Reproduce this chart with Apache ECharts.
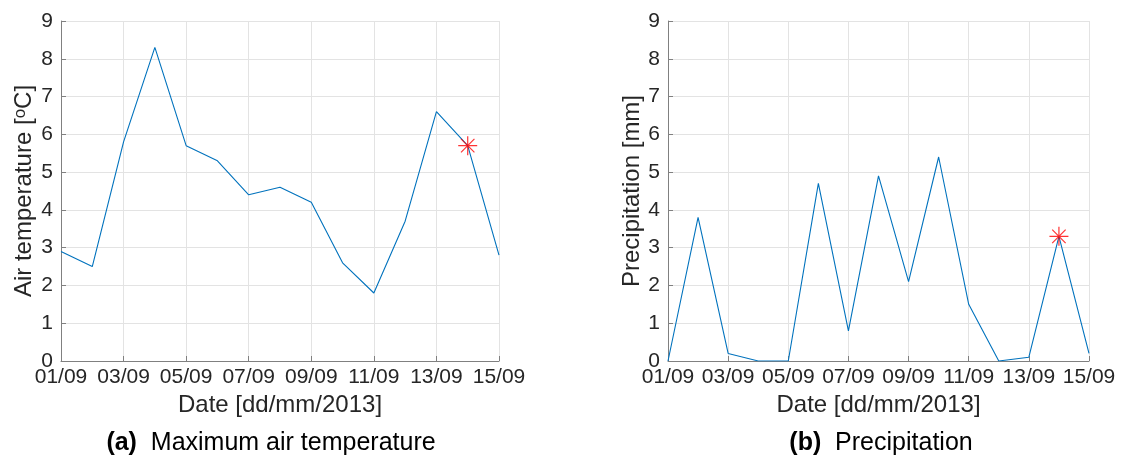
<!DOCTYPE html>
<html>
<head>
<meta charset="utf-8">
<title>Maximum air temperature and precipitation, September 2013</title>
<script src="https://cdn.jsdelivr.net/npm/echarts@6/dist/echarts.min.js"></script>
<style>
  html, body { margin: 0; padding: 0; background: #ffffff; }
  #chart { width: 1145px; height: 461px; }
</style>
</head>
<body>
<div id="chart"></div>
<script>
// Daily observations, 1–15 September 2013
const dates = ['01/09', '02/09', '03/09', '04/09', '05/09', '06/09', '07/09', '08/09',
               '09/09', '10/09', '11/09', '12/09', '13/09', '14/09', '15/09'];
const maxTemp = [2.9, 2.5, 5.8, 8.3, 5.7, 5.3, 4.4, 4.6, 4.2, 2.6, 1.8, 3.7, 6.6, 5.7, 2.8];
const precip = [0, 3.8, 0.2, 0, 0, 4.7, 0.8, 4.9, 2.1, 5.4, 1.5, 0, 0.1, 3.3, 0.2];
const highlightDate = '14/09';

const yTicks = { min: 0, max: 9, interval: 1 };
const tempTitle = 'Air temperature [{sup|o}C]';
const precipTitle = 'Precipitation [mm]';
const xTitle = 'Date [dd/mm/2013]';
const captionA = ['(a)', 'Maximum air temperature'];
const captionB = ['(b)', 'Precipitation'];

const hi = dates.indexOf(highlightDate);

const LINE = '#0072BD';
const AXIS = '#808080';
const TEXT = '#262626';
const GRID = '#e3e3e3';
const FONT = '"Liberation Sans", Arial, Helvetica, sans-serif';
const STAR = 'path://M0,-10L0,10M-10,0L10,0M-7.07,-7.07L7.07,7.07M-7.07,7.07L7.07,-7.07';

function xAxisFor(gridIndex) {
  return {
    type: 'category',
    gridIndex,
    data: dates,
    boundaryGap: false,
    name: xTitle,
    nameLocation: 'middle',
    nameGap: 26,
    nameTextStyle: { fontFamily: FONT, fontSize: 24, color: TEXT },
    axisLine: { lineStyle: { color: AXIS, width: 1 } },
    axisTick: { inside: true, length: 5, interval: 1, lineStyle: { color: AXIS } },
    axisLabel: { interval: 1, margin: 6, fontFamily: FONT, fontSize: 21, color: TEXT },
    splitLine: { show: true, interval: 1, lineStyle: { color: GRID, width: 1 } }
  };
}

function yAxisFor(gridIndex, title, gap) {
  return {
    type: 'value',
    gridIndex,
    min: yTicks.min,
    max: yTicks.max,
    interval: yTicks.interval,
    name: title,
    nameLocation: 'middle',
    nameGap: gap,
    nameTextStyle: {
      fontFamily: FONT, fontSize: 24, color: TEXT,
      rich: {
        sup: { fontFamily: FONT, fontSize: 17, color: TEXT, verticalAlign: 'top', padding: [0, 0, 8, 0] }
      }
    },
    axisLine: { show: true, lineStyle: { color: AXIS, width: 1 } },
    axisTick: { show: true, inside: true, length: 5, lineStyle: { color: AXIS } },
    axisLabel: { margin: 8, fontFamily: FONT, fontSize: 21, color: TEXT },
    splitLine: { show: true, lineStyle: { color: GRID, width: 1 } }
  };
}

function lineSeries(idx, values) {
  return {
    type: 'line',
    xAxisIndex: idx,
    yAxisIndex: idx,
    data: values,
    showSymbol: false,
    symbol: 'none',
    lineStyle: { color: LINE, width: 1.1 },
    animation: false,
    z: 2
  };
}

function starSeries(idx, values) {
  return {
    type: 'scatter',
    xAxisIndex: idx,
    yAxisIndex: idx,
    data: [[highlightDate, values[hi]]],
    symbol: STAR,
    symbolSize: 19,
    itemStyle: { color: 'none', borderColor: '#ff0000', borderWidth: 1.2 },
    animation: false,
    z: 3
  };
}

function caption(parts, centerX) {
  return {
    type: 'text',
    x: centerX,
    y: 443,
    style: {
      text: '{b|' + parts[0] + '}{n|  ' + parts[1] + '}',
      align: 'center',
      verticalAlign: 'middle',
      rich: {
        b: { fontFamily: FONT, fontSize: 25, fontWeight: 'bold', fill: '#000000' },
        n: { fontFamily: FONT, fontSize: 25, fill: '#000000' }
      }
    }
  };
}

const chart = echarts.init(document.getElementById('chart'), null, { renderer: 'canvas' });
chart.setOption({
  backgroundColor: '#ffffff',
  animation: false,
  grid: [
    { left: 61, top: 21, width: 438, height: 340 },
    { left: 668, top: 21, width: 421, height: 340 }
  ],
  xAxis: [xAxisFor(0), xAxisFor(1)],
  yAxis: [yAxisFor(0, tempTitle, 24), yAxisFor(1, precipTitle, 23)],
  series: [
    lineSeries(0, maxTemp),
    starSeries(0, maxTemp),
    lineSeries(1, precip),
    starSeries(1, precip)
  ],
  graphic: [caption(captionA, 271), caption(captionB, 881)]
});
</script>
</body>
</html>
